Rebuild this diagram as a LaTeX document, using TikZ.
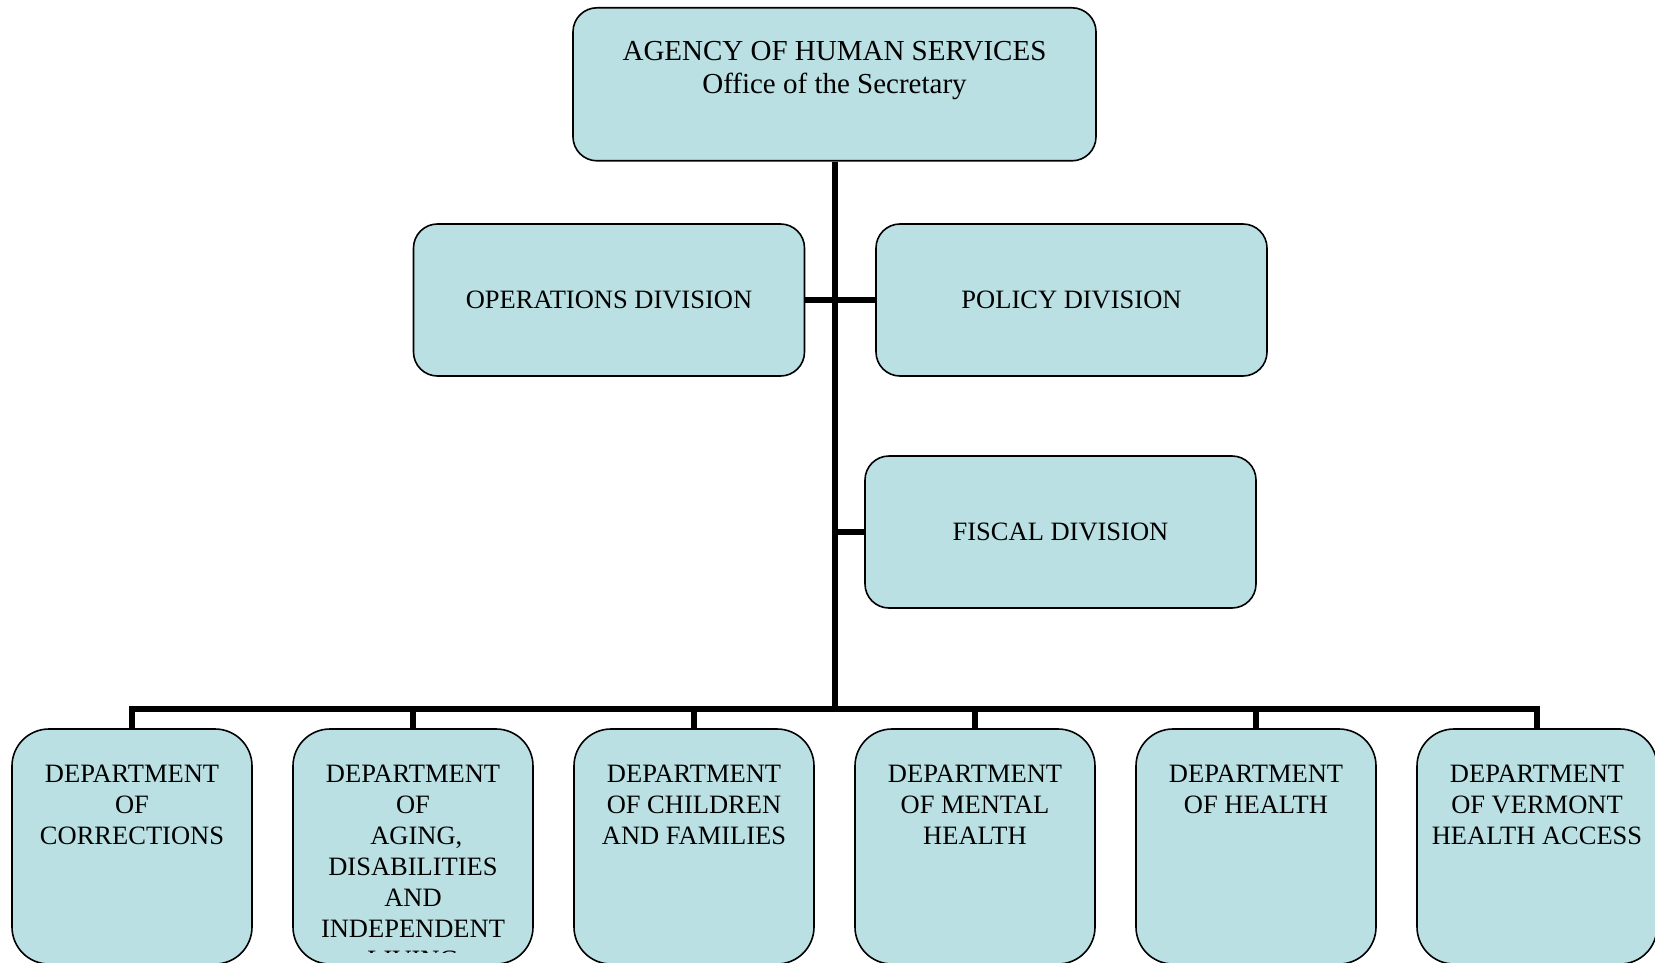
\documentclass[tikz,border=0pt]{standalone}
\usepackage{fontspec}
\setmainfont{Liberation Serif}
\definecolor{boxfill}{RGB}{186,224,227}
\begin{document}
\begin{tikzpicture}[x=0.5pt,y=-0.5pt,
  box/.style={draw=black,line width=0.8pt,fill=boxfill,rounded corners=12pt,inner sep=0pt},
  topbox/.style={box,minimum width=261.5pt,minimum height=76.5pt},
  divbox/.style={box,minimum width=195.5pt,minimum height=76pt,font=\fontsize{13.25}{15.5}\selectfont},
  deptbox/.style={box,rounded corners=18.5pt,minimum width=120pt,minimum height=117.5pt},
  depttext/.style={anchor=north,inner sep=0pt,align=center,font=\fontsize{13.25}{15.5}\selectfont},
  toptext/.style={anchor=north,inner sep=0pt,align=center,font=\fontsize{14.5}{16.5}\selectfont},
  conn/.style={line width=3pt}]
\useasboundingbox (0,0) rectangle (1655,963);
\clip (0,0) rectangle (1655,963);

% top box
\node[topbox] (top) at (834.5,84.3) {};
\node[toptext] (toptxt) at (834.5,41) {AGENCY OF HUMAN SERVICES\\Office of the Secretary};

% divisions
\node[divbox] (ops) at (609,300) {OPERATIONS DIVISION};
\node[divbox] (pol) at (1071.5,300) {POLICY DIVISION};
\node[divbox] (fis) at (1060.5,532) {FISCAL DIVISION};

% departments
\node[deptbox] (d1) at (132,846.5) {};
\node[deptbox] (d2) at (413,846.5) {};
\node[deptbox] (d3) at (694,846.5) {};
\node[deptbox] (d4) at (975,846.5) {};
\node[deptbox] (d5) at (1256,846.5) {};
\node[deptbox] (d6) at (1537,846.5) {};

\node[depttext] (t1) at (132,765) {DEPARTMENT\\OF\\CORRECTIONS};
\begin{scope}
\clip (292,729) rectangle (534,952);
\node[depttext] (t2) at (413,765) {DEPARTMENT\\OF\\\hspace*{.25em}AGING,\\DISABILITIES\\AND\\INDEPENDENT\\LIVING};
\end{scope}
\node[depttext] (t3) at (694,765) {DEPARTMENT\\OF CHILDREN\\AND FAMILIES};
\node[depttext] (t4) at (975,765) {DEPARTMENT\\OF MENTAL\\HEALTH};
\node[depttext] (t5) at (1256,765) {DEPARTMENT\\OF HEALTH};
\node[depttext] (t6) at (1537,765) {DEPARTMENT\\OF VERMONT\\HEALTH ACCESS};

% connectors
\coordinate (hub) at (834.5,709);
\draw[conn] (top.south) -- (hub);
\draw[conn] (ops.east) -- (pol.west);
\draw[conn] (fis.west) -- (fis.west -| hub);
\foreach \d in {d1,d2,d3,d4,d5,d6}{
  \draw[conn] (hub) -| (\d.north);
}
\end{tikzpicture}
\end{document}
